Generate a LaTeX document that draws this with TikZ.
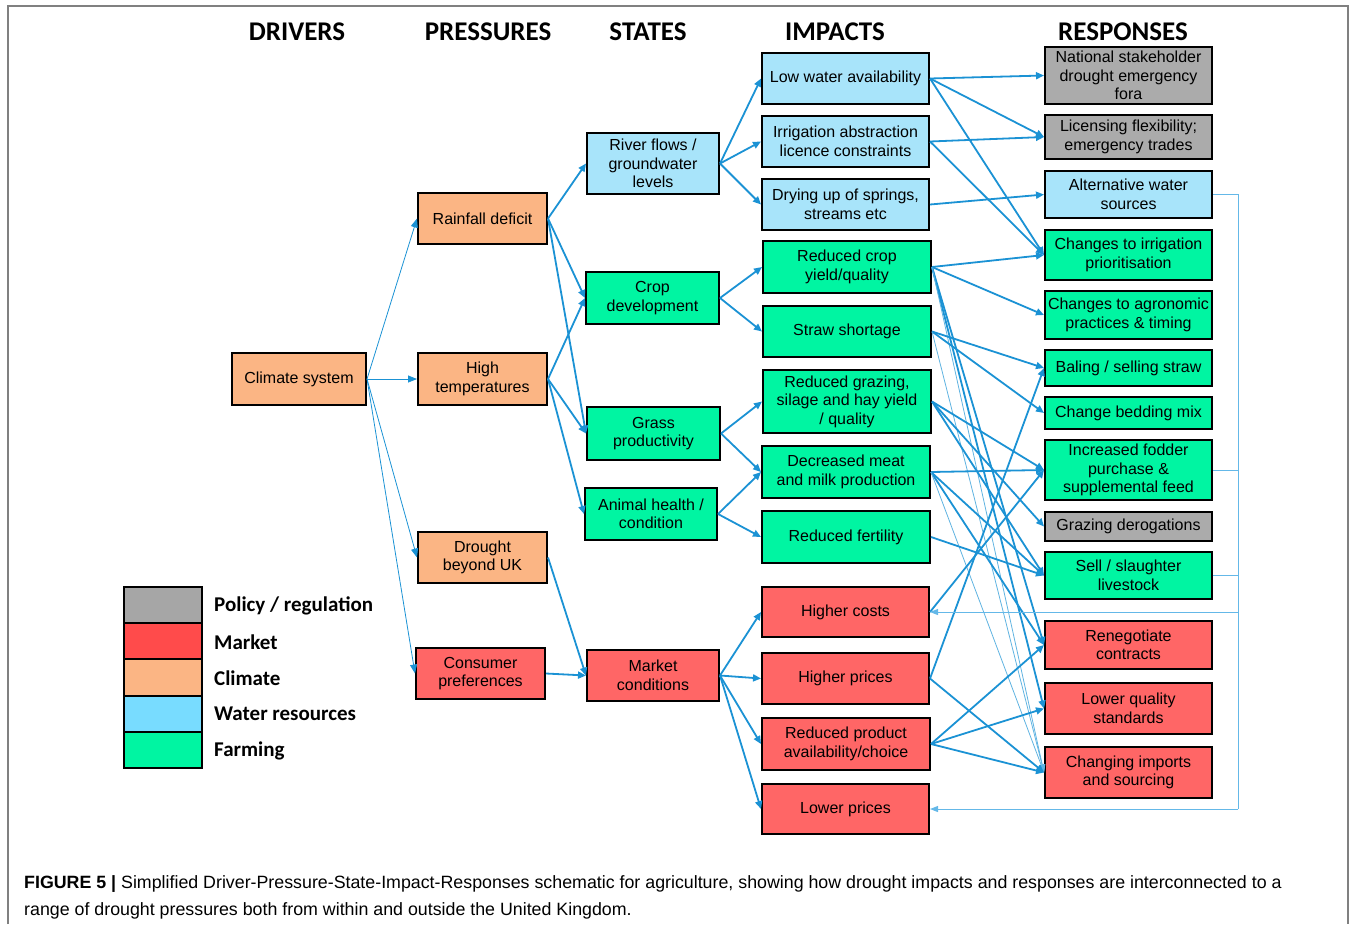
\documentclass[tikz,border=0pt]{standalone}
\usepackage{fontspec}
\setmainfont{Liberation Sans}
\newfontfamily\calib{Carlito}
\usetikzlibrary{arrows.meta}
\definecolor{cwater}{RGB}{168,228,250}
\definecolor{cfarm}{RGB}{0,245,162}
\definecolor{cmkt}{RGB}{255,102,102}
\definecolor{cclim}{RGB}{251,181,132}
\definecolor{cpol}{RGB}{171,171,171}
\definecolor{lpol}{RGB}{166,166,166}
\definecolor{lmkt}{RGB}{255,75,75}
\definecolor{lwater}{RGB}{120,220,255}
\definecolor{cline}{RGB}{27,146,212}
\definecolor{cfb}{RGB}{100,184,232}
\definecolor{cframe}{RGB}{128,128,128}
\begin{document}
\begin{tikzpicture}[x=1pt,y=-1pt,
  box/.style={draw=black, line width=2pt, align=center, inner sep=0pt,
    font=\fontsize{16}{18.5}\selectfont, text=black},
  hdr/.style={font=\calib\bfseries\fontsize{27}{30}\selectfont, inner sep=0pt},
  legbox/.style={draw=black, line width=1.5pt, minimum width=78pt, minimum height=36pt, inner sep=0pt},
  leglab/.style={anchor=west, font=\calib\bfseries\fontsize{21}{24}\selectfont, inner sep=0pt},
  arr/.style={draw=cline, line width=1.8pt, -{Triangle[length=8pt,width=7pt]}},
  thinarr/.style={draw=cline, line width=0.8pt, -{Triangle[length=9pt,width=7pt]}},
  faint/.style={draw=cline!70, line width=0.8pt, -{Triangle[length=8pt,width=6pt]}},
  fb/.style={draw=cfb, line width=1pt},
  fbarr/.style={draw=cfb, line width=1pt, -{Triangle[length=8pt,width=6pt]}}
]
\useasboundingbox (0,0) rectangle (1356,924);
% frame
\draw[cframe, line width=1.2pt] (8,924) -- (8,6) -- (1348,6) -- (1348,924);

% headers
\node[hdr] (h1) at (297,32) {DRIVERS};
\node[hdr] (h2) at (488,32) {PRESSURES};
\node[hdr] (h3) at (648,32) {STATES};
\node[hdr] (h4) at (835,32) {IMPACTS};
\node[hdr] (h5) at (1123,32) {RESPONSES};

% drivers / pressures
\node[box, fill=cclim, minimum width=134pt, minimum height=52pt] (climate) at (299,379) {Climate system};
\node[box, fill=cclim, minimum width=129pt, minimum height=51pt] (rain) at (482.5,218.5) {Rainfall deficit};
\node[box, fill=cclim, minimum width=129pt, minimum height=52pt] (hight) at (482.5,379) {High\\temperatures};
\node[box, fill=cclim, minimum width=129pt, minimum height=51pt] (drought) at (482.5,557.5) {Drought\\beyond UK};
\node[box, fill=cmkt, minimum width=129pt, minimum height=51pt] (consumer) at (480.5,673.5) {Consumer\\preferences};

% states
\node[box, fill=cwater, minimum width=132pt, minimum height=61pt] (river) at (653,163.5) {River flows /\\groundwater\\levels};
\node[box, fill=cfarm, minimum width=133pt, minimum height=52pt] (cropdev) at (652.5,298) {Crop\\development};
\node[box, fill=cfarm, minimum width=133pt, minimum height=53pt] (grass) at (653.5,433.5) {Grass\\productivity};
\node[box, fill=cfarm, minimum width=132pt, minimum height=52pt] (animal) at (651,514) {Animal health /\\condition};
\node[box, fill=cmkt, minimum width=132pt, minimum height=51pt] (market) at (653,675.5) {Market\\conditions};

% impacts
\node[box, fill=cwater, minimum width=167pt, minimum height=51pt] (low) at (845.5,78.5) {Low water availability};
\node[box, fill=cwater, minimum width=167pt, minimum height=51pt] (abstr) at (845.5,141.5) {Irrigation abstraction\\licence constraints};
\node[box, fill=cwater, minimum width=167pt, minimum height=51pt] (drying) at (845.5,204.5) {Drying up of springs,\\streams etc};
\node[box, fill=cfarm, minimum width=168pt, minimum height=52pt] (crop) at (847,267) {Reduced crop\\yield/quality};
\node[box, fill=cfarm, minimum width=168pt, minimum height=51pt] (straw) at (847,331.5) {Straw shortage};
\node[box, fill=cfarm, minimum width=168pt, minimum height=63pt] (grazing) at (847,401.5) {Reduced grazing,\\silage and hay yield\\/ quality};
\node[box, fill=cfarm, minimum width=168pt, minimum height=52pt] (meat) at (846,472) {Decreased meat\\and milk production};
\node[box, fill=cfarm, minimum width=168pt, minimum height=52pt] (fert) at (846,537) {Reduced fertility};
\node[box, fill=cmkt, minimum width=167pt, minimum height=50pt] (costs) at (845.5,612) {Higher costs};
\node[box, fill=cmkt, minimum width=167pt, minimum height=51pt] (prices) at (845.5,678.5) {Higher prices};
\node[box, fill=cmkt, minimum width=168pt, minimum height=52pt] (product) at (846,744) {Reduced product\\availability/choice};
\node[box, fill=cmkt, minimum width=167pt, minimum height=50pt] (lowprice) at (845.5,809) {Lower prices};

% responses
\node[box, fill=cpol, minimum width=167pt, minimum height=57pt] (national) at (1128.5,75.5) {National stakeholder\\drought emergency\\fora};
\node[box, fill=cpol, minimum width=167pt, minimum height=44pt] (licensing) at (1128.5,137) {Licensing flexibility;\\emergency trades};
\node[box, fill=cwater, minimum width=167pt, minimum height=47pt] (altwater) at (1128.5,194.5) {Alternative water\\sources};
\node[box, fill=cfarm, minimum width=167pt, minimum height=50pt] (irrprior) at (1128.5,255) {Changes to irrigation\\prioritisation};
\node[box, fill=cfarm, minimum width=167pt, minimum height=48pt] (agron) at (1128.5,315) {Changes to agronomic\\practices \& timing};
\node[box, fill=cfarm, minimum width=167pt, minimum height=36pt] (baling) at (1128.5,368) {Baling / selling straw};
\node[box, fill=cfarm, minimum width=167pt, minimum height=32pt] (bedding) at (1128.5,413) {Change bedding mix};
\node[box, fill=cfarm, minimum width=167pt, minimum height=60pt] (fodder) at (1128.5,470) {Increased fodder\\purchase \&\\supplemental feed};
\node[box, fill=cpol, minimum width=167pt, minimum height=29pt] (derog) at (1128.5,526.5) {Grazing derogations};
\node[box, fill=cfarm, minimum width=167pt, minimum height=47pt] (sell) at (1128.5,575.5) {Sell / slaughter\\livestock};
\node[box, fill=cmkt, minimum width=167pt, minimum height=48pt] (reneg) at (1128.5,645) {Renegotiate\\contracts};
\node[box, fill=cmkt, minimum width=167pt, minimum height=51pt] (lowerq) at (1128.5,708.5) {Lower quality\\standards};
\node[box, fill=cmkt, minimum width=167pt, minimum height=51pt] (imports) at (1128.5,772.5) {Changing imports\\and sourcing};

% legend
\node[legbox, fill=lpol] (lg1) at (163,605) {};
\node[legbox, fill=lmkt] (lg2) at (163,641) {};
\node[legbox, fill=cclim] (lg3) at (163,677.5) {};
\node[legbox, fill=lwater] (lg4) at (163,714) {};
\node[legbox, fill=cfarm] (lg5) at (163,750) {};
\node[leglab] (ll1) at (214,606) {Policy / regulation};
\node[leglab] (ll2) at (214,642) {Market};
\node[leglab] (ll3) at (214,678) {Climate};
\node[leglab] (ll4) at (214,714) {Water resources};
\node[leglab] (ll5) at (214,751) {Farming};

% drivers -> pressures
\draw[thinarr] (climate.east) -- (rain.west);
\draw[thinarr] (climate.east) -- (hight.west);
\draw[thinarr] (climate.east) -- (drought.west);
\draw[thinarr] (climate.east) -- (consumer.west);

% pressures -> states
\draw[arr] (rain.east) -- (river.west);
\draw[arr] (rain.east) -- (cropdev.west);
\draw[arr] (rain.east) -- (grass.west);
\draw[arr] (hight.east) -- (cropdev.west);
\draw[arr] (hight.east) -- (grass.west);
\draw[arr] (hight.east) -- (animal.west);
\draw[arr] (drought.east) -- (market.west);
\draw[arr] (consumer.east) -- (market.west);

% states -> impacts
\draw[arr] (river.east) -- (low.west);
\draw[arr] (river.east) -- (abstr.west);
\draw[arr] (river.east) -- (drying.west);
\draw[arr] (cropdev.east) -- (crop.west);
\draw[arr] (cropdev.east) -- (straw.west);
\draw[arr] (grass.east) -- (grazing.west);
\draw[arr] (grass.east) -- (meat.west);
\draw[arr] (animal.east) -- (meat.west);
\draw[arr] (animal.east) -- (fert.west);
\draw[arr] (market.east) -- (costs.west);
\draw[arr] (market.east) -- (prices.west);
\draw[arr] (market.east) -- (product.west);
\draw[arr] (market.east) -- (lowprice.west);

% impacts -> responses
\draw[arr] (low.east) -- (national.west);
\draw[arr] (low.east) -- (licensing.west);
\draw[arr] (low.east) -- (irrprior.west);
\draw[arr] (abstr.east) -- (licensing.west);
\draw[arr] (abstr.east) -- (irrprior.west);
\draw[arr] (drying.east) -- (altwater.west);
\draw[arr] (crop.east) -- (irrprior.west);
\draw[arr] (crop.east) -- (agron.west);
\draw[arr] (crop.east) -- (reneg.west);
\draw[arr] (crop.east) -- (lowerq.west);
\draw[faint] (crop.east) -- (imports.west);
\draw[arr] (straw.east) -- (baling.west);
\draw[arr] (straw.east) -- (bedding.west);
\draw[faint] (straw.east) -- (imports.west);
\draw[arr] (grazing.east) -- (fodder.west);
\draw[arr] (grazing.east) -- (derog.west);
\draw[arr] (grazing.east) -- (sell.west);
\draw[arr] (meat.east) -- (fodder.west);
\draw[arr] (meat.east) -- (sell.west);
\draw[arr] (meat.east) -- (reneg.west);
\draw[faint] (meat.east) -- (imports.west);
\draw[arr] (fert.east) -- (sell.west);
\draw[arr] (costs.east) -- (fodder.west);
\draw[arr] (prices.east) -- (baling.west);
\draw[arr] (prices.east) -- (imports.west);
\draw[arr] (product.east) -- (reneg.west);
\draw[arr] (product.east) -- (lowerq.west);
\draw[arr] (product.east) -- (imports.west);

% feedback lines
\coordinate (fbx) at (1238,0);
\draw[fb] (altwater.east) -- (altwater.east -| fbx) -- (fbx |- lowprice.east);
\draw[fb] (fodder.east) -- (fodder.east -| fbx);
\draw[fb] (sell.east) -- (sell.east -| fbx);
\draw[fbarr] (costs.east -| fbx) -- (costs.east);
\draw[fbarr] (lowprice.east -| fbx) -- (lowprice.east);

% caption
\node[anchor=base west, inner sep=0pt, font=\fontsize{17.8}{20}\selectfont] (cap1) at (24,888)
  {\textbf{FIGURE 5 |} Simplified Driver-Pressure-State-Impact-Responses schematic for agriculture, showing how drought impacts and responses are interconnected to a};
\node[anchor=base west, inner sep=0pt, font=\fontsize{17.8}{20}\selectfont] (cap2) at (24,915)
  {range of drought pressures both from within and outside the United Kingdom.};
\end{tikzpicture}
\end{document}
